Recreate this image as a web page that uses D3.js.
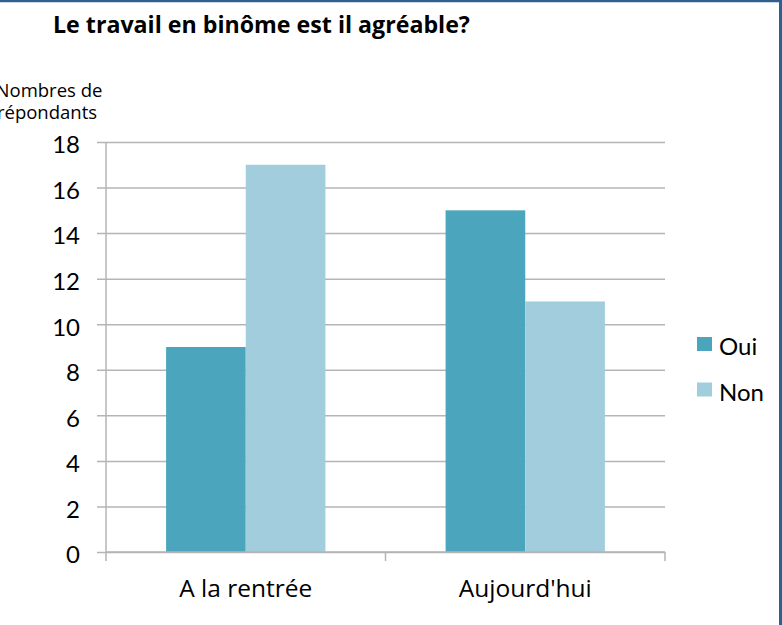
<!DOCTYPE html>
<html>
<head>
<meta charset="utf-8">
<script src="https://cdn.jsdelivr.net/npm/d3@7"></script>
<style>
  body { margin: 0; background: #fff; }
  svg { display: block; font-family: Lato, "Open Sans", sans-serif; }
  .grid line { stroke: #b5b5b5; stroke-width: 1.5; }
  .grid path { display: none; }
</style>
</head>
<body>
<div id="chart"></div>
<script>
// data
var categories = ["A la rentrée", "Aujourd'hui"];
var seriesNames = ["Oui", "Non"];
var ouiValues = [9, 15];
var nonValues = [17, 11];
var yTicks = [0, 2, 4, 6, 8, 10, 12, 14, 16, 18];

var colors = {Oui: "#4ba5bc", Non: "#a1cddd"};

var W = 782, H = 625;
var margin = {top: 142, right: 117, bottom: 73, left: 106};
var width = W - margin.left - margin.right,
    height = H - margin.top - margin.bottom;

var rows = categories.map(function(c, i) {
  return {cat: c, Oui: ouiValues[i], Non: nonValues[i]};
});

var svg = d3.select("#chart").append("svg")
    .attr("width", W)
    .attr("height", H);

// frame (blue border on top and right)
svg.append("line").attr("x1", 0).attr("x2", W).attr("y1", 1).attr("y2", 1)
    .attr("stroke", "#2e5f8f").attr("stroke-width", 2.5);
svg.append("line").attr("x1", W - 1.5).attr("x2", W - 1.5).attr("y1", 0).attr("y2", H)
    .attr("stroke", "#2e5f8f").attr("stroke-width", 3);

// title
svg.append("text")
    .attr("x", 53).attr("y", 33)
    .attr("font-family", "'Open Sans', sans-serif")
    .attr("font-size", 23.2).attr("font-weight", "bold")
    .attr("fill", "#000")
    .text("Le travail en binôme est il agréable?");

// y axis title
var yTitle = svg.append("text")
    .attr("text-anchor", "middle")
    .attr("font-family", "'Open Sans', sans-serif")
    .attr("font-size", 18.5).attr("fill", "#000");
yTitle.append("tspan").attr("x", 49).attr("y", 97).text("Nombres de");
yTitle.append("tspan").attr("x", 47).attr("y", 119).text("répondants");

var g = svg.append("g")
    .attr("transform", "translate(" + margin.left + "," + margin.top + ")");

var x0 = d3.scaleBand()
    .domain(categories)
    .range([0, width])
    .paddingInner(0.43)
    .paddingOuter(0.215);

var x1 = d3.scaleBand()
    .domain(seriesNames)
    .range([0, x0.bandwidth()]);

var y = d3.scaleLinear()
    .domain([0, 18])
    .range([height, 0]);

// gridlines + tick labels
var yAxis = g.append("g")
    .attr("class", "grid")
    .call(d3.axisLeft(y).tickValues(yTicks).tickSize(-width - 9).tickPadding(17))
    .attr("transform", "translate(-9,0)");
yAxis.selectAll("text")
    .attr("font-size", 24).attr("fill", "#000")
    .attr("font-family", "Lato, 'Open Sans', sans-serif")
    .attr("dy", "0.45em");

// bars
g.selectAll(".group")
    .data(rows)
  .enter().append("g")
    .attr("class", "group")
    .attr("transform", function(d) { return "translate(" + x0(d.cat) + ",0)"; })
  .selectAll("rect")
    .data(function(d) { return seriesNames.map(function(s) { return {key: s, value: d[s]}; }); })
  .enter().append("rect")
    .attr("x", function(d) { return x1(d.key); })
    .attr("y", function(d) { return y(d.value); })
    .attr("width", x1.bandwidth())
    .attr("height", function(d) { return height - y(d.value); })
    .attr("fill", function(d) { return colors[d.key]; });

// y axis line
g.append("line")
    .attr("x1", 0).attr("x2", 0).attr("y1", 0).attr("y2", height)
    .attr("stroke", "#b5b5b5").attr("stroke-width", 1.5);

// x axis line and category boundary ticks
var xAxis = g.append("g").attr("transform", "translate(0," + height + ")");
xAxis.append("line")
    .attr("x1", 0).attr("x2", width).attr("y1", 0).attr("y2", 0)
    .attr("stroke", "#b5b5b5").attr("stroke-width", 1.5);
xAxis.selectAll(".xtick")
    .data(d3.range(categories.length + 1))
  .enter().append("line")
    .attr("x1", function(i) { return i * width / categories.length; })
    .attr("x2", function(i) { return i * width / categories.length; })
    .attr("y1", 0).attr("y2", 9)
    .attr("stroke", "#b5b5b5").attr("stroke-width", 1.5);
xAxis.selectAll(".xlabel")
    .data(categories)
  .enter().append("text")
    .attr("x", function(d) { return x0(d) + x0.bandwidth() / 2; })
    .attr("y", 45)
    .attr("text-anchor", "middle")
    .attr("font-family", "'Open Sans', sans-serif")
    .attr("font-size", 24.5).attr("fill", "#000")
    .text(function(d) { return d; });

// legend
var legend = svg.append("g").attr("transform", "translate(697,337)");
var item = legend.selectAll(".item")
    .data(seriesNames)
  .enter().append("g")
    .attr("transform", function(d, i) { return "translate(0," + (i * 45.5) + ")"; });
item.append("rect")
    .attr("width", 15).attr("height", 14)
    .attr("fill", function(d) { return colors[d]; });
item.append("text")
    .attr("x", 22).attr("y", 18)
    .attr("font-size", 24).attr("fill", "#000")
    .text(function(d) { return d; });
</script>
</body>
</html>
